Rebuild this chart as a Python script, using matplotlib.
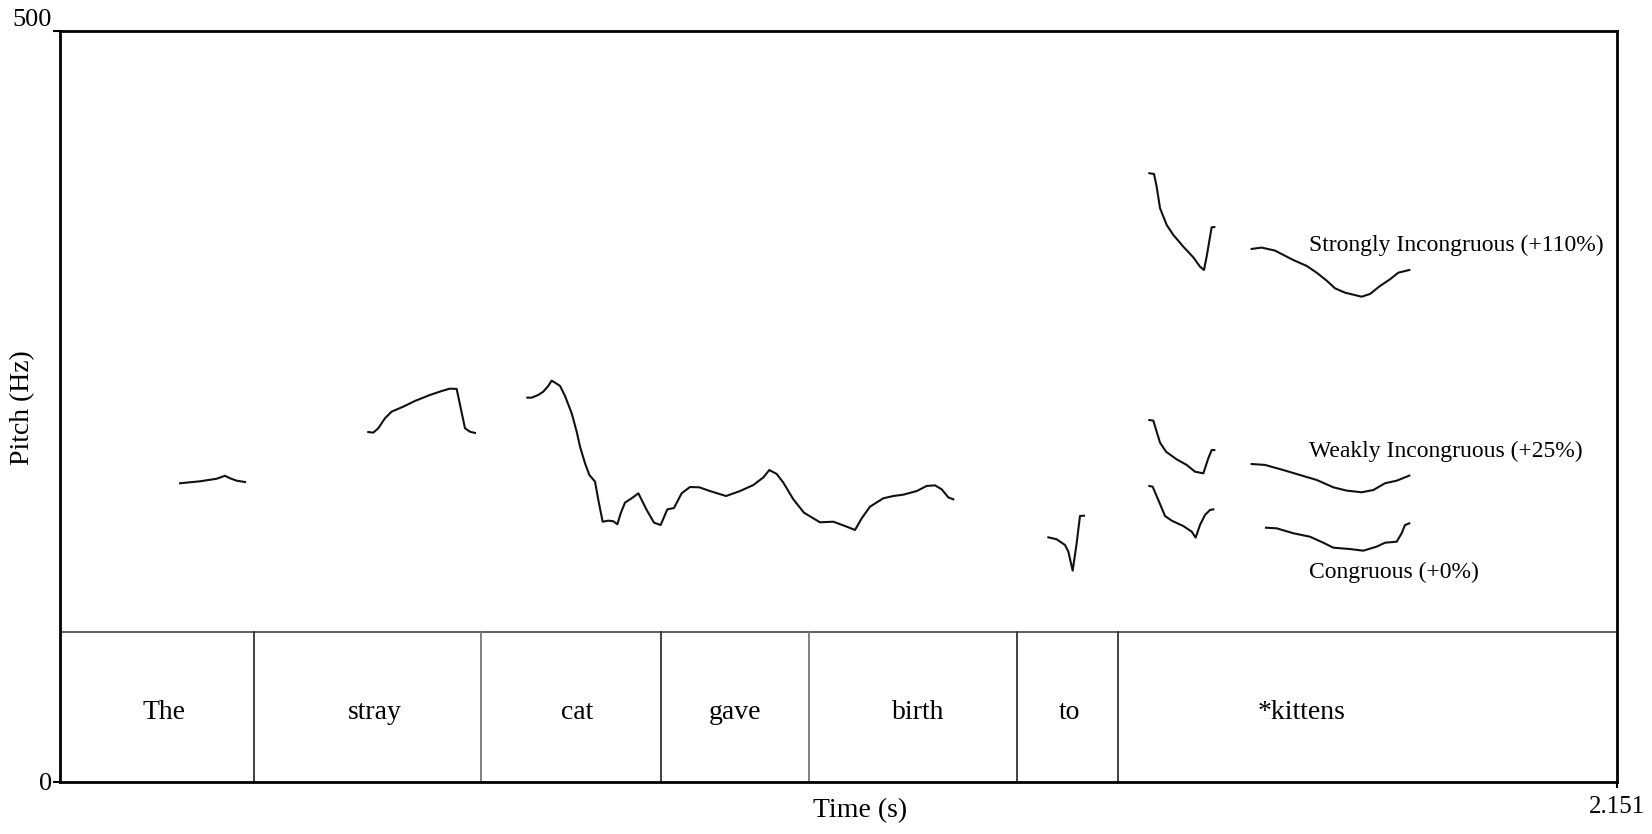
import matplotlib
matplotlib.use("Agg")
import matplotlib.pyplot as plt

plt.rcParams['font.family'] = ['Liberation Serif', 'DejaVu Serif']

# ---- Data -------------------------------------------------------------
X_MAX = 2.151
Y_MAX = 500
TIER_TOP = 100  # Hz level where the text tier begins

words = ["The", "stray", "cat", "gave", "birth", "to", "*kittens"]
word_label_t = [0.143, 0.435, 0.715, 0.933, 1.186, 1.395, 1.715]
word_bounds = [0.268, 0.582, 0.830, 1.035, 1.322, 1.461]

the_t = [0.1658, 0.1934, 0.2165, 0.2279, 0.2349, 0.2441, 0.2556]
the_f = [198.9, 200.2, 201.9, 203.9, 202.2, 200.6, 199.7]

stray_t = [0.4259, 0.4328, 0.4397, 0.4490, 0.4582, 0.4743, 0.4904, 0.5112,
           0.5273, 0.5388, 0.5480, 0.5595, 0.5664, 0.5733]
stray_f = [233.0, 232.6, 235.5, 242.2, 246.6, 249.9, 253.7, 257.7,
           260.3, 261.9, 261.7, 235.5, 233.2, 232.4]

catgavebirth_t = [0.6456, 0.6516, 0.6608, 0.6677, 0.6746, 0.6792, 0.6838, 0.6908,
                  0.6977, 0.7069, 0.7138, 0.7184, 0.7253, 0.7313, 0.7391, 0.7437,
                  0.7497, 0.7575, 0.7644, 0.7700, 0.7746, 0.7805, 0.7898, 0.7990,
                  0.8105, 0.8206, 0.8298, 0.8390, 0.8482, 0.8588, 0.8703, 0.8832,
                  0.8980, 0.9201, 0.9394, 0.9578, 0.9717, 0.9799, 0.9901, 0.9993,
                  1.0131, 1.0278, 1.0499, 1.0684, 1.0868, 1.0983, 1.1075, 1.1190,
                  1.1374, 1.1512, 1.1651, 1.1835, 1.1973, 1.2088, 1.2180, 1.2272,
                  1.2341]
catgavebirth_f = [255.9, 255.9, 257.7, 259.9, 263.7, 267.2, 265.9, 263.7,
                  257.0, 245.5, 233.3, 223.3, 212.2, 204.4, 200.0, 187.8,
                  173.3, 174.0, 173.6, 171.6, 178.9, 186.0, 188.9, 192.2,
                  181.1, 172.7, 171.1, 181.5, 182.4, 192.2, 196.4, 196.2,
                  193.7, 190.4, 193.7, 197.7, 202.8, 207.7, 205.1, 199.3,
                  188.2, 179.3, 172.9, 173.3, 170.0, 167.8, 175.5, 183.3,
                  188.9, 190.4, 191.3, 193.7, 197.1, 197.5, 194.9, 189.5,
                  188.2]

to_t = [1.3654, 1.3769, 1.3884, 1.3930, 1.3990, 1.4045, 1.4091, 1.4146]
to_f = [162.9, 161.6, 157.8, 153.4, 140.7, 158.9, 177.1, 177.3]

# *kittens, strongly incongruous (+110%)
strong1_t = [1.5049, 1.5114, 1.5150, 1.5197, 1.5289, 1.5381, 1.5519, 1.5657,
             1.5749, 1.5804, 1.5841, 1.5910, 1.5947]
strong1_f = [405.3, 404.8, 396.4, 382.0, 370.9, 364.2, 356.4, 349.3,
             343.1, 340.9, 349.8, 369.3, 369.5]
strong2_t = [1.6463, 1.6601, 1.6785, 1.7039, 1.7223, 1.7361, 1.7499, 1.7614,
             1.7752, 1.7982, 1.8097, 1.8235, 1.8374, 1.8489, 1.8641]
strong2_f = [354.9, 355.8, 353.8, 347.5, 343.6, 339.1, 333.8, 328.7,
             325.8, 323.1, 324.9, 330.2, 334.7, 339.1, 340.9]

# *kittens, weakly incongruous (+25%)
weak1_t = [1.5049, 1.5104, 1.5197, 1.5280, 1.5427, 1.5565, 1.5680, 1.5795,
           1.5864, 1.5910, 1.5947]
weak1_f = [241.0, 240.6, 225.9, 219.9, 214.8, 211.1, 206.6, 205.5,
           215.5, 221.0, 221.0]
weak2_t = [1.6463, 1.6647, 1.6900, 1.7130, 1.7361, 1.7591, 1.7775, 1.7982,
           1.8144, 1.8305, 1.8466, 1.8641]
weak2_f = [211.7, 211.1, 207.7, 204.4, 201.1, 196.2, 194.0, 192.9,
           194.4, 198.9, 200.6, 204.0]

# *kittens, congruous (+0%)
cong1_t = [1.5049, 1.5095, 1.5173, 1.5266, 1.5358, 1.5519, 1.5634, 1.5689,
           1.5749, 1.5818, 1.5887, 1.5933]
cong1_f = [197.1, 196.6, 187.8, 177.1, 174.0, 170.4, 166.7, 162.7,
           171.1, 177.8, 181.1, 181.5]
cong2_t = [1.6661, 1.6808, 1.7039, 1.7269, 1.7453, 1.7591, 1.7821, 1.8005,
           1.8189, 1.8305, 1.8466, 1.8535, 1.8581, 1.8641]
cong2_f = [169.3, 168.9, 165.6, 163.3, 159.3, 156.0, 155.1, 154.0,
           156.7, 159.3, 160.0, 165.6, 171.1, 172.2]

condition_labels = ["Strongly Incongruous (+110%)", "Weakly Incongruous (+25%)",
                    "Congruous (+0%)"]
condition_label_t = [1.725, 1.725, 1.725]
condition_label_f = [357.0, 220.0, 139.5]

# ---- Figure -----------------------------------------------------------
fig = plt.figure(figsize=(16.52, 8.34), dpi=100)
ax = fig.add_axes([60 / 1652, 1 - 782 / 834, 1557 / 1652, 751 / 834])
ax.set_xlim(0, X_MAX)
ax.set_ylim(0, Y_MAX)

segments = [(the_t, the_f), (stray_t, stray_f), (catgavebirth_t, catgavebirth_f),
            (to_t, to_f), (strong1_t, strong1_f), (strong2_t, strong2_f),
            (weak1_t, weak1_f), (weak2_t, weak2_f), (cong1_t, cong1_f),
            (cong2_t, cong2_f)]
for t, f in segments:
    ax.plot(t, f, color='#111111', lw=1.5, solid_joinstyle='round')

# text tier
bound_colors = ['#333333', '#777777', '#333333', '#777777', '#333333', '#333333']
ax.axhline(TIER_TOP, color='#444444', lw=1.2)
for b, c in zip(word_bounds, bound_colors):
    ax.plot([b, b], [0, TIER_TOP], color=c, lw=1.3)
for w, t in zip(words, word_label_t):
    ax.text(t, TIER_TOP * 0.46, w, ha='center', va='center', fontsize=20)

for lab, t, f in zip(condition_labels, condition_label_t, condition_label_f):
    ax.text(t, f, lab, ha='left', va='center', fontsize=17)

# axes styling
for s in ax.spines.values():
    s.set_linewidth(2)
    s.set_color('black')
ax.set_yticks([0, Y_MAX])
ax.set_yticklabels(["0", "500"], fontsize=19)
ax.set_xticks([X_MAX])
ax.set_xticklabels(["2.151"], fontsize=18)
ax.tick_params(axis='y', length=5, width=1.5, pad=1)
ax.tick_params(axis='x', length=4, width=1.5, pad=6)
ylabs = ax.get_yticklabels()
ylabs[1].set_verticalalignment('bottom')
ax.set_xlabel("Time (s)", fontsize=20)
ax.set_ylabel("Pitch (Hz)", fontsize=20)
ax.xaxis.set_label_coords(0.514, -0.0386)
ax.xaxis.label.set_verticalalignment('center')
ax.yaxis.set_label_coords(-0.0238, 0.498)
ax.yaxis.label.set_verticalalignment('center')

fig.savefig("out.png", dpi=100)
